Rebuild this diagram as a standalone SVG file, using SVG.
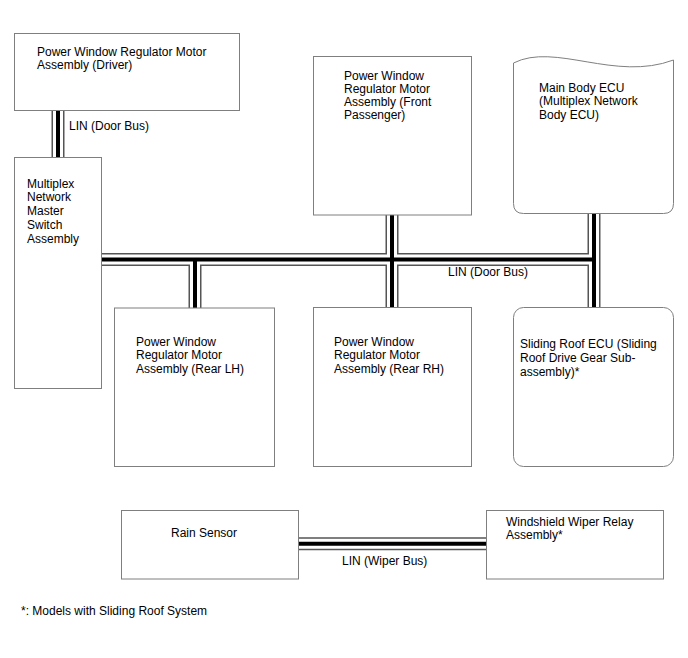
<svg xmlns="http://www.w3.org/2000/svg" width="688" height="658" viewBox="0 0 688 658">
<style>
.box{fill:#fff;stroke:#7f7f7f;stroke-width:1}
text{font-family:"Liberation Sans",Arial,sans-serif;font-size:12px;fill:#000}
.bo{fill:none;stroke:#555;stroke-width:13}
.bw{fill:none;stroke:#fff;stroke-width:10}
.bk{fill:none;stroke:#000;stroke-width:4}
</style>
<defs>
<path id="bus" d="M58,111 V157 M102,259.5 H594 M594,213 V307 M392,215 V307 M195,259.5 V308 M298,543.7 H486"/>
</defs>
<rect width="688" height="658" fill="#fff"/>
<g id="connectors">
<use href="#bus" class="bo"/>
<use href="#bus" class="bw"/>
<use href="#bus" class="bk"/>
<text x="69" y="129.5">LIN (Door Bus)</text>
<text x="448" y="276">LIN (Door Bus)</text>
<text x="342" y="565">LIN (Wiper Bus)</text>
</g>
<g id="driver">
<rect class="box" x="14.5" y="33.5" width="225" height="77"/>
<text x="37" y="55.5">Power Window Regulator Motor</text>
<text x="37" y="69">Assembly (Driver)</text>
</g>
<g id="master">
<rect class="box" x="14.5" y="157.5" width="87" height="231"/>
<text x="27" y="187.5">Multiplex</text>
<text x="27" y="201.3">Network</text>
<text x="27" y="215">Master</text>
<text x="27" y="228.8">Switch</text>
<text x="27" y="242.5">Assembly</text>
</g>
<g id="front-passenger">
<rect class="box" x="313.5" y="56.5" width="158" height="158.5"/>
<text x="344" y="79.5">Power Window</text>
<text x="344" y="92.8">Regulator Motor</text>
<text x="344" y="106.1">Assembly (Front</text>
<text x="344" y="119.4">Passenger)</text>
</g>
<g id="main-body-ecu">
<path class="box" d="M513.5,63 C555,42 615,82 673.5,60 V203.5 Q673.5,213.5 663.5,213.5 H523.5 Q513.5,213.5 513.5,203.5 Z"/>
<text x="539" y="92">Main Body ECU</text>
<text x="539" y="105.3">(Multiplex Network</text>
<text x="539" y="118.6">Body ECU)</text>
</g>
<g id="rear-lh">
<rect class="box" x="114.5" y="308" width="160" height="158.5"/>
<text x="136" y="345.7">Power Window</text>
<text x="136" y="359.3">Regulator Motor</text>
<text x="136" y="372.9">Assembly (Rear LH)</text>
</g>
<g id="rear-rh">
<rect class="box" x="313.5" y="307.5" width="158" height="159"/>
<text x="334" y="345.7">Power Window</text>
<text x="334" y="359.3">Regulator Motor</text>
<text x="334" y="372.9">Assembly (Rear RH)</text>
</g>
<g id="sliding-roof-ecu">
<rect class="box" x="513.5" y="307.5" width="160" height="159" rx="10" ry="10"/>
<text x="520" y="348.3">Sliding Roof ECU (Sliding</text>
<text x="520" y="361.9">Roof Drive Gear Sub-</text>
<text x="520" y="375.5">assembly)*</text>
</g>
<g id="rain-sensor">
<rect class="box" x="121.5" y="510.5" width="177" height="68.5"/>
<text x="171" y="537.3">Rain Sensor</text>
</g>
<g id="wiper-relay">
<rect class="box" x="486.5" y="510.5" width="177" height="68.5"/>
<text x="506" y="525.7">Windshield Wiper Relay</text>
<text x="506" y="539.2">Assembly*</text>
</g>
<text x="21" y="614.5">*: Models with Sliding Roof System</text>
</svg>
